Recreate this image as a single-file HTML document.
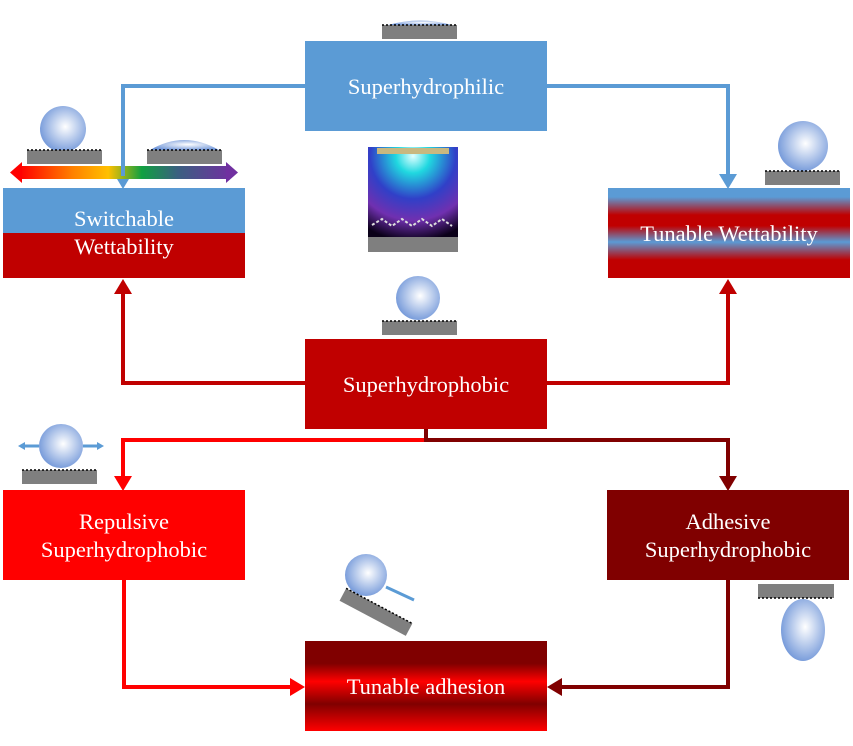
<!DOCTYPE html>
<html><head><meta charset="utf-8"><style>
html,body{margin:0;padding:0;background:#fff;width:853px;height:746px;overflow:hidden}
text{font-family:"Liberation Serif",serif;fill:#fff;font-size:22.5px;text-anchor:middle}
</style></head><body>
<svg width="853" height="746" viewBox="0 0 853 746" xmlns="http://www.w3.org/2000/svg">
<defs>
<radialGradient id="drop" cx="0.55" cy="0.45" r="0.6"><stop offset="0" stop-color="#ffffff"/><stop offset="1" stop-color="#6f95d8"/></radialGradient>
<linearGradient id="rainbow" x1="0" x2="1"><stop offset="0" stop-color="#ff0000"/><stop offset="0.25" stop-color="#ff8000"/><stop offset="0.42" stop-color="#ffc000"/><stop offset="0.58" stop-color="#10a040"/><stop offset="0.75" stop-color="#3a6080"/><stop offset="1" stop-color="#7030a0"/></linearGradient>
<linearGradient id="tw" x1="0" y1="0" x2="0" y2="1"><stop offset="0" stop-color="#5b9bd5"/><stop offset="0.1" stop-color="#5b9bd5"/><stop offset="0.3" stop-color="#c00000"/><stop offset="0.42" stop-color="#c00000"/><stop offset="0.6" stop-color="#5b9bd5"/><stop offset="0.8" stop-color="#c00000"/><stop offset="1" stop-color="#c00000"/></linearGradient>
<linearGradient id="ta" x1="0" y1="0" x2="0" y2="1"><stop offset="0" stop-color="#800000"/><stop offset="0.25" stop-color="#800000"/><stop offset="0.45" stop-color="#ff0000"/><stop offset="0.7" stop-color="#800000"/><stop offset="1" stop-color="#ff0000"/></linearGradient>
<radialGradient id="light" cx="0.5" cy="0.1" r="0.95"><stop offset="0" stop-color="#e0ffff"/><stop offset="0.2" stop-color="#20d8e0"/><stop offset="0.5" stop-color="#3040c8"/><stop offset="0.75" stop-color="#7030b0"/><stop offset="1" stop-color="#0a0018"/></radialGradient>
</defs>

<g fill="none" stroke="#5b9bd5" stroke-width="4">
<polyline points="305,86 123,86 123,176"/>
<polyline points="547,86 728,86 728,176"/>
</g>
<polygon points="114,174 132,174 123,189" fill="#5b9bd5"/>
<polygon points="719,174 737,174 728,189" fill="#5b9bd5"/>

<g fill="none" stroke="#c00000" stroke-width="4">
<polyline points="305,383 123,383 123,292"/>
<polyline points="547,383 728,383 728,292"/>
</g>
<polygon points="114,294 132,294 123,279" fill="#c00000"/>
<polygon points="719,294 737,294 728,279" fill="#c00000"/>

<polyline points="426,428 426,440 123,440 123,478" fill="none" stroke="#ff0000" stroke-width="4"/>
<polyline points="426,428 426,440 728,440 728,478" fill="none" stroke="#800000" stroke-width="4"/>
<line x1="426" y1="428" x2="426" y2="440" stroke="#800000" stroke-width="4"/>
<polygon points="114,476 132,476 123,491" fill="#ff0000"/>
<polygon points="719,476 737,476 728,491" fill="#800000"/>

<polyline points="124,580 124,687 292,687" fill="none" stroke="#ff0000" stroke-width="4"/>
<polygon points="290,678 290,696 305,687" fill="#ff0000"/>
<polyline points="728,580 728,687 560,687" fill="none" stroke="#800000" stroke-width="4"/>
<polygon points="562,678 562,696 547,687" fill="#800000"/>

<rect x="305" y="41" width="242" height="90" fill="#5b9bd5"/>
<text x="426" y="94">Superhydrophilic</text>

<rect x="3" y="188" width="242" height="45" fill="#5b9bd5"/>
<rect x="3" y="233" width="242" height="45" fill="#c00000"/>
<text x="124" y="226">Switchable</text>
<text x="124" y="254">Wettability</text>

<rect x="608" y="188" width="242" height="90" fill="url(#tw)"/>
<text x="729" y="241">Tunable Wettability</text>

<rect x="305" y="339" width="242" height="90" fill="#c00000"/>
<text x="426" y="392">Superhydrophobic</text>

<rect x="3" y="490" width="242" height="90" fill="#ff0000"/>
<text x="124" y="529">Repulsive</text>
<text x="124" y="557">Superhydrophobic</text>

<rect x="607" y="490" width="242" height="90" fill="#800000"/>
<text x="728" y="529">Adhesive</text>
<text x="728" y="557">Superhydrophobic</text>

<rect x="305" y="641" width="242" height="90" fill="url(#ta)"/>
<text x="426" y="694">Tunable adhesion</text>

<rect x="20" y="166" width="210" height="13" fill="url(#rainbow)"/>
<polygon points="10,172.5 22,162 22,183" fill="#ff0000"/>
<polygon points="238,172.5 226,162 226,183" fill="#7030a0"/>
<line x1="123" y1="131" x2="123" y2="176" stroke="#5b9bd5" stroke-width="4"/>

<g>
<circle cx="63" cy="129" r="23" fill="url(#drop)"/>
<rect x="27" y="150" width="75" height="14" fill="#7f7f7f"/>
<line x1="27" y1="150" x2="102" y2="150" stroke="#000" stroke-dasharray="2,2" stroke-width="1.5"/>
<path d="M150,150 Q184,130 219,150 Z" fill="url(#drop)"/>
<rect x="147" y="150" width="75" height="14" fill="#7f7f7f"/>
<line x1="147" y1="150" x2="222" y2="150" stroke="#000" stroke-dasharray="2,2" stroke-width="1.5"/>

<path d="M388,25 Q420,16 452,25 Z" fill="url(#drop)"/>
<rect x="382" y="25" width="75" height="14" fill="#7f7f7f"/>
<line x1="382" y1="25" x2="457" y2="25" stroke="#000" stroke-dasharray="2,2" stroke-width="1.5"/>

<circle cx="803" cy="146" r="25" fill="url(#drop)"/>
<rect x="765" y="171" width="75" height="14" fill="#7f7f7f"/>
<line x1="765" y1="171" x2="840" y2="171" stroke="#000" stroke-dasharray="2,2" stroke-width="1.5"/>

<circle cx="418" cy="298" r="22" fill="url(#drop)"/>
<rect x="382" y="321" width="75" height="14" fill="#7f7f7f"/>
<line x1="382" y1="321" x2="457" y2="321" stroke="#000" stroke-dasharray="2,2" stroke-width="1.5"/>

<circle cx="61" cy="446" r="22" fill="url(#drop)"/>
<rect x="22" y="470" width="75" height="14" fill="#7f7f7f"/>
<line x1="22" y1="470" x2="97" y2="470" stroke="#000" stroke-dasharray="2,2" stroke-width="1.5"/>
<line x1="24" y1="446" x2="39" y2="446" stroke="#5b9bd5" stroke-width="3"/>
<polygon points="18,446 25,442 25,450" fill="#5b9bd5"/>
<line x1="83" y1="446" x2="98" y2="446" stroke="#5b9bd5" stroke-width="3"/>
<polygon points="104,446 97,442 97,450" fill="#5b9bd5"/>

<circle cx="366" cy="575" r="21" fill="url(#drop)"/>
<line x1="386" y1="587" x2="414" y2="600" stroke="#5b9bd5" stroke-width="3"/>
<g transform="rotate(28 375 615)"><rect x="337" y="605" width="75" height="14" fill="#7f7f7f"/><line x1="337" y1="605" x2="412" y2="605" stroke="#000" stroke-dasharray="2,2" stroke-width="1.5"/></g>

<rect x="758" y="584" width="76" height="14" fill="#7f7f7f"/>
<line x1="758" y1="598" x2="834" y2="598" stroke="#000" stroke-dasharray="2,2" stroke-width="1.5"/>
<ellipse cx="803" cy="630" rx="22" ry="31" fill="url(#drop)"/>

<rect x="368" y="147" width="90" height="90" fill="url(#light)"/>
<rect x="377" y="148" width="72" height="6" fill="#c8b880"/>
<polyline points="372,225 382,219 392,226 402,219 412,226 422,219 432,226 442,219 452,226" fill="none" stroke="#ddd" stroke-width="2" stroke-dasharray="3,2"/>
<rect x="368" y="237" width="90" height="15" fill="#7f7f7f"/>
</g>
</svg>
</body></html>
